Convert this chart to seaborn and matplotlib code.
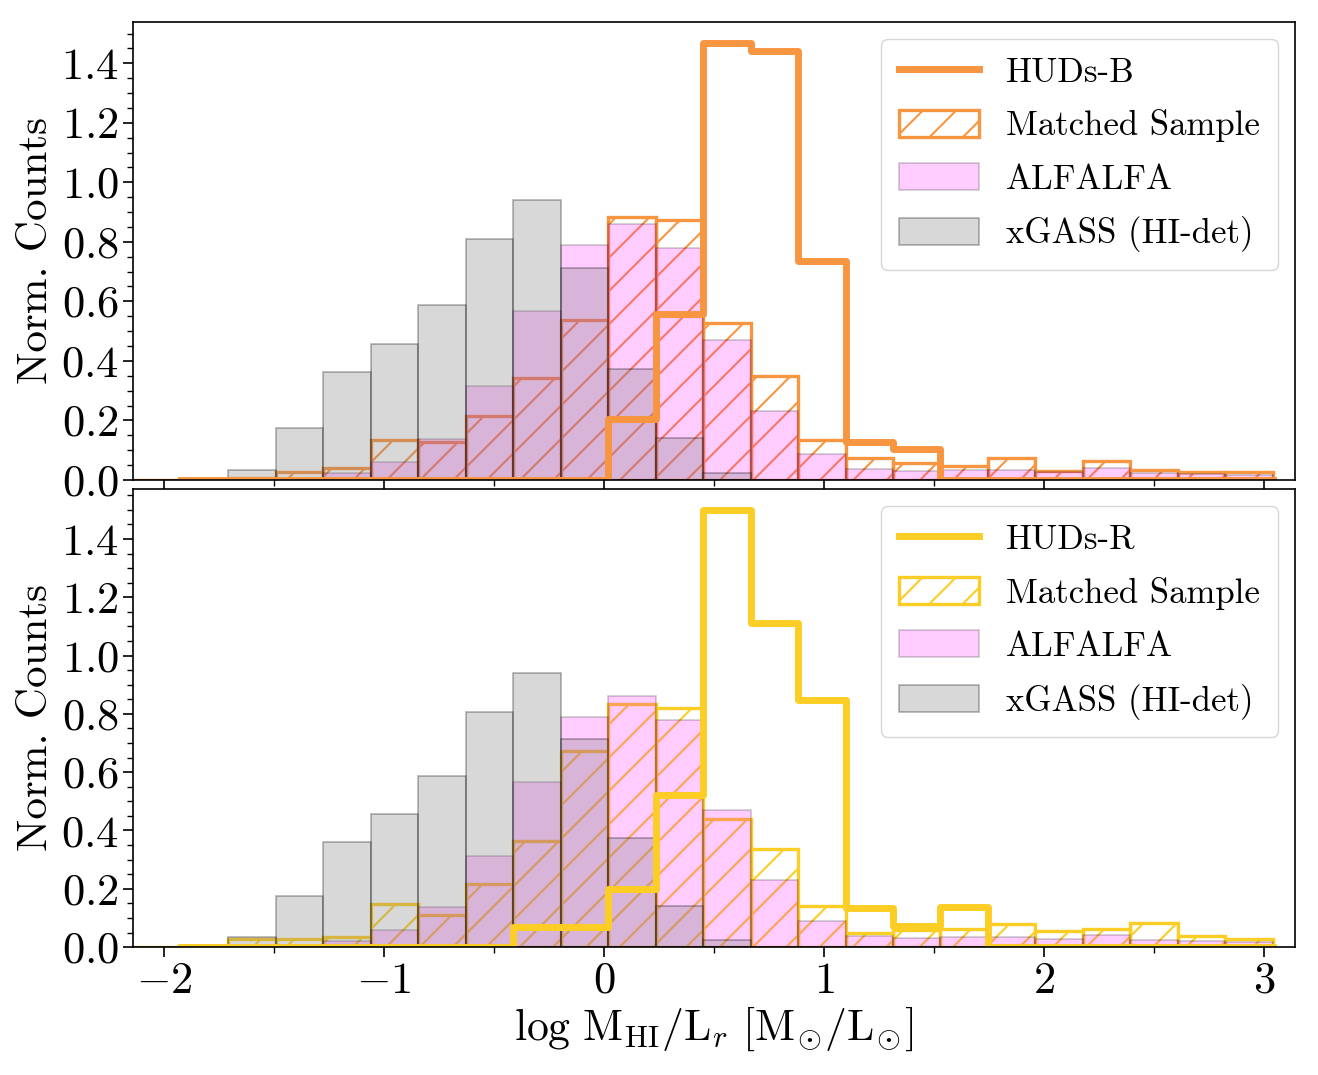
import numpy as np
import pandas as pd
import matplotlib as mpl
mpl.use("Agg")
import matplotlib.pyplot as plt
import seaborn as sns
from matplotlib.ticker import MultipleLocator

mpl.rcParams["font.family"] = ["cmr10", "DejaVu Serif"]
mpl.rcParams["mathtext.fontset"] = "cm"
mpl.rcParams["axes.formatter.use_mathtext"] = True
mpl.rcParams["axes.unicode_minus"] = True
mpl.rcParams["hatch.linewidth"] = 1.5

# bin grid of log MHI/Lr (24 bins)
x_lo, x_hi, n_bins = -2.14, 3.04, 24
edges = np.linspace(x_lo, x_hi, n_bins + 1)
centers = 0.5 * (edges[:-1] + edges[1:])

# reference samples (identical in both panels)
xgass = [0, 0, 0.033, 0.174, 0.361, 0.458, 0.588, 0.808, 0.939, 0.713, 0.373, 0.142,
         0.023, 0, 0, 0, 0, 0, 0, 0, 0, 0, 0, 0]
alfalfa = [0, 0, 0.004, 0.008, 0.022, 0.060, 0.139, 0.314, 0.567, 0.791, 0.860, 0.779,
           0.471, 0.230, 0.088, 0.038, 0.030, 0.034, 0.034, 0.028, 0.040, 0.024, 0.020, 0.016]

# matched samples
matched_b = [0, 0, 0.005, 0.027, 0.041, 0.134, 0.127, 0.215, 0.342, 0.539, 0.883, 0.874,
             0.528, 0.349, 0.134, 0.075, 0.058, 0.047, 0.075, 0.030, 0.062, 0.035, 0.028, 0.028]
matched_r = [0, 0, 0.027, 0.027, 0.034, 0.147, 0.111, 0.218, 0.364, 0.674, 0.835, 0.819,
             0.441, 0.338, 0.140, 0.050, 0.057, 0.063, 0.078, 0.055, 0.063, 0.082, 0.038, 0.029]

# HUDs (bins 1..23)
huds_b = [0, 0, 0, 0, 0, 0, 0, 0, 0, 0.204, 0.558, 1.467, 1.441, 0.735, 0.126, 0.103,
          0, 0, 0, 0, 0, 0, 0]
huds_r = [0, 0, 0, 0, 0, 0, 0, 0.069, 0.069, 0.198, 0.521, 1.498, 1.111, 0.848, 0.135,
          0.071, 0.137, 0, 0, 0, 0, 0, 0]

panels = [("HUDs-B", "#f89540", huds_b, matched_b),
          ("HUDs-R", "#fcce25", huds_r, matched_r)]

fig, axes = plt.subplots(2, 1, sharex=True, figsize=(13.18, 10.75))
fig.subplots_adjust(left=0.101, right=0.9825, top=0.98, bottom=0.119, hspace=0.019)

for ax, (name, col, huds, matched) in zip(axes, panels):
    df = pd.DataFrame({"x": centers, "matched": matched, "alfalfa": alfalfa, "xgass": xgass})
    df_h = pd.DataFrame({"x": centers[1:], "huds": huds})

    sns.histplot(data=df, x="x", weights="matched", bins=n_bins, binrange=(x_lo, x_hi),
                 element="bars", fill=False, color=col, hatch="/", linewidth=2.4, ax=ax)
    sns.histplot(data=df, x="x", weights="alfalfa", bins=n_bins, binrange=(x_lo, x_hi),
                 element="bars", color="magenta", alpha=0.2, edgecolor=(0, 0, 0, 0.2),
                 linewidth=1.2, ax=ax)
    sns.histplot(data=df, x="x", weights="xgass", bins=n_bins, binrange=(x_lo, x_hi),
                 element="bars", color="gray", alpha=0.3, edgecolor=(0, 0, 0, 0.3),
                 linewidth=1.2, ax=ax)
    sns.histplot(data=df_h, x="x", weights="huds", bins=n_bins - 1, binrange=(edges[1], x_hi),
                 element="step", fill=False, color=col, linewidth=5, ax=ax)

    handles = [ax.lines[-1], ax.containers[0], ax.containers[1], ax.containers[2]]
    labels = [name, "Matched Sample", "ALFALFA", "xGASS (HI-det)"]
    ax.legend(handles, labels, loc="upper right", fontsize=25, handlelength=2.3,
              handleheight=0.8, labelspacing=0.6, borderpad=0.5)

    ax.set_xlim(-2.14, 3.14)
    ax.set_ylim(bottom=0)
    ax.set_ylabel("Norm. Counts", fontsize=31)
    ax.yaxis.set_major_locator(MultipleLocator(0.2))
    ax.yaxis.set_minor_locator(MultipleLocator(0.05))
    ax.xaxis.set_major_locator(MultipleLocator(1))
    ax.xaxis.set_minor_locator(MultipleLocator(0.5))
    ax.tick_params(which="major", length=7, width=1.2, labelsize=32)
    ax.tick_params(which="minor", length=4, width=1.0)
    for sp in ax.spines.values():
        sp.set_linewidth(1.2)

axes[0].set_xlabel("")
axes[1].set_xlabel(r"$\mathrm{log\ M}_{\mathrm{HI}}/\mathrm{L}_r\ [\mathrm{M}_{\!\odot\!}/\mathrm{L}_{\!\odot\!}]$",
                   fontsize=31.5, labelpad=2)

fig.savefig("out.png", dpi=100)
